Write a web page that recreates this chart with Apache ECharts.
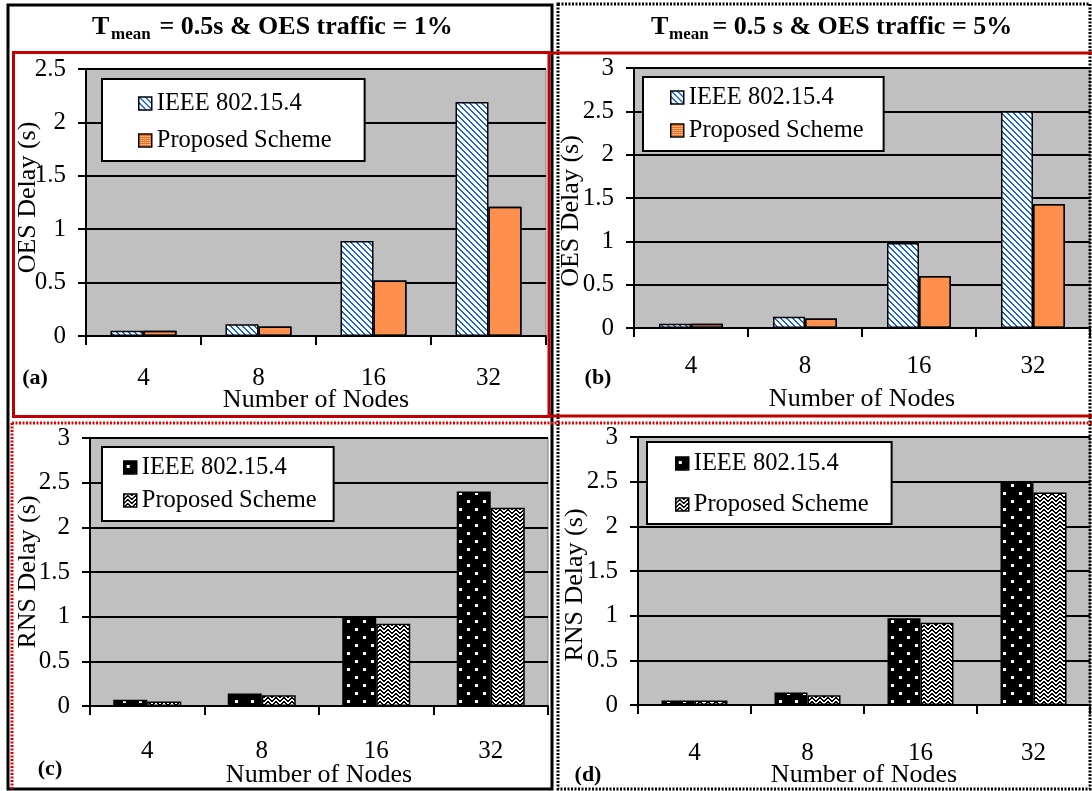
<!DOCTYPE html>
<html><head><meta charset="utf-8">
<script src="https://cdn.jsdelivr.net/npm/echarts@6/dist/echarts.min.js"></script>
<style>html,body{margin:0;padding:0;background:#fff}#c{width:1092px;height:791px}</style>
</head><body><div id="c"></div>
<script>
// ---- data ----
const categories = ['4', '8', '16', '32'];
const seriesNames = ['IEEE 802.15.4', 'Proposed Scheme'];
const oes1Ieee = [0.05, 0.11, 0.89, 2.19];
const oes1Prop = [0.05, 0.09, 0.52, 1.21];
const oes5Ieee = [0.05, 0.13, 0.98, 2.50];
const oes5Prop = [0.05, 0.11, 0.60, 1.43];
const rns1Ieee = [0.07, 0.14, 1.00, 2.40];
const rns1Prop = [0.05, 0.12, 0.92, 2.22];
const rns5Ieee = [0.05, 0.14, 0.97, 2.50];
const rns5Prop = [0.05, 0.11, 0.92, 2.38];
const yMax = [2.5, 3, 3, 3];
const xTitle = 'Number of Nodes';
const yTitles = ['OES Delay (s)', 'OES Delay (s)', 'RNS Delay (s)', 'RNS Delay (s)'];
const panelLetters = ['(a)', '(b)', '(c)', '(d)'];
const titleMain = ['T', 'T'];
const titleSub = ['mean', 'mean'];
const titleRest = [' = 0.5s & OES traffic = 1%', ' = 0.5 s & OES traffic = 5%'];

// ---- patterns ----
function pat(w, h, draw) {
  const c = document.createElement('canvas'); c.width = w; c.height = h;
  const g = c.getContext('2d'); draw(g, w, h);
  return { image: c, repeat: 'repeat' };
}
const makers = {
  blueDiag: () => pat(6, 6, (g, w, h) => {
    g.fillStyle = '#ffffff'; g.fillRect(0, 0, w, h);
    g.fillStyle = '#1565d8';
    for (let i = 0; i < 6; i++) { g.fillRect(i, i, 1, 1); g.fillRect((i + 1) % 6, i, 1, 1); }
  }),
  orangeChk: () => pat(8, 8, (g, w, h) => {
    g.fillStyle = '#ffffff'; g.fillRect(0, 0, w, h);
    g.fillStyle = '#ff6a10';
    for (let y = 0; y < h; y++) for (let x = 0; x < w; x++) {
      if (!(x % 2 === 0 && y % 2 === 0)) g.fillRect(x, y, 1, 1);
    }
  }),
  blackDots: () => pat(16, 16, (g, w, h) => {
    g.fillStyle = '#000000'; g.fillRect(0, 0, w, h);
    g.fillStyle = '#ffffff'; g.fillRect(3, 4, 3, 3); g.fillRect(11, 12, 3, 3);
  }),
  zigzag: () => pat(8, 8, (g, w, h) => {
    g.fillStyle = '#ffffff'; g.fillRect(0, 0, w, h);
    g.fillStyle = '#000000';
    for (let y = 0; y < h; y++) for (let x = 0; x < w; x++) {
      const f = x < 4 ? x : 7 - x;
      if ((y + f) % 4 < 2) g.fillRect(x, y, 1, 1);
    }
  })
};
const styleKeys = [['blueDiag', 'orangeChk'], ['blueDiag', 'orangeChk'], ['blackDots', 'zigzag'], ['blackDots', 'zigzag']];
const dataSets = [[oes1Ieee, oes1Prop], [oes5Ieee, oes5Prop], [rns1Ieee, rns1Prop], [rns5Ieee, rns5Prop]];

// ---- layout ----
const FONT = 'Liberation Serif';
const grids = [
  { left: 86, top: 69, width: 460, height: 267 },
  { left: 634, top: 68, width: 456, height: 260 },
  { left: 90, top: 438, width: 458, height: 268 },
  { left: 638, top: 437, width: 452, height: 268 }
];
const xLabelMargin = [30, 26, 33, 36];
const xNameGap = [51, 58, 56, 57];
const yNameGap = [45, 50, 49, 50];
const yNamePad = [[0, 0, 0, 10], [0, 26, 0, 0], [0, 0, 0, 0], [0, 28, 0, 0]];
const barW = [33, 32, 34, 33];
const legends = [
  { left: 102, top: 79, padding: [12, 33, 8, 36], itemGap: 12 },
  { left: 643, top: 77, padding: [8, 20, 8, 27], itemGap: 8 },
  { left: 102, top: 447, padding: [8, 17, 8, 21], itemGap: 8 },
  { left: 647, top: 442, padding: [9, 23, 7, 28], itemGap: 16 }
];
const letterPos = [[35, 378], [598, 378], [50, 769], [588, 775]];

function barStyle(i, k) {
  const key = styleKeys[i][k];
  if (key === 'orangeChk') {
    return { color: '#ff6a10', borderColor: '#000', borderWidth: 1.5,
      decal: { symbol: 'rect', symbolSize: 0.5, color: '#ffffff', dashArrayX: [2, 0], dashArrayY: [2, 0], rotation: 0 } };
  }
  return { color: makers[key](), borderColor: '#000', borderWidth: 1.5 };
}

const option = {
  animation: false,
  textStyle: { fontFamily: FONT },
  grid: grids.map(g => Object.assign({ show: true, backgroundColor: '#c0c0c0', borderColor: '#808080', borderWidth: 1, containLabel: false, outerBoundsMode: 'none' }, g)),
  xAxis: grids.map((g, i) => ({
    type: 'category', gridIndex: i, data: categories,
    axisLine: { lineStyle: { color: '#000', width: 2 } },
    axisTick: { show: true, length: 9, lineStyle: { color: '#000', width: 2 } },
    axisLabel: { color: '#000', fontSize: 25, fontFamily: FONT, margin: xLabelMargin[i] },
    name: xTitle, nameLocation: 'middle', nameGap: xNameGap[i], nameMoveOverlap: false,
    nameTextStyle: { color: '#000', fontSize: 26, fontFamily: FONT }
  })),
  yAxis: grids.map((g, i) => ({
    type: 'value', gridIndex: i, min: 0, max: yMax[i], interval: 0.5,
    axisLine: { show: true, lineStyle: { color: '#000', width: 2 } },
    axisTick: { show: true, length: 8, lineStyle: { color: '#000', width: 2 } },
    axisLabel: { color: '#000', fontSize: 25, fontFamily: FONT, margin: 20 },
    splitLine: { show: true, lineStyle: { color: '#000', width: 2 } },
    name: yTitles[i], nameLocation: 'middle', nameGap: yNameGap[i], nameMoveOverlap: false,
    nameTextStyle: { color: '#000', fontSize: 26, fontFamily: FONT, padding: yNamePad[i] }
  })),
  legend: legends.map((l, i) => ({
    left: l.left, top: l.top, orient: 'vertical', padding: l.padding, itemGap: l.itemGap,
    backgroundColor: '#fff', borderColor: '#000', borderWidth: 2,
    itemWidth: 13, itemHeight: 13, itemTextGap: 7, selectedMode: false,
    textStyle: { color: '#000', fontSize: 24.5, fontFamily: FONT },
    data: seriesNames.map((n, k) => ({ name: n, icon: 'rect', itemStyle: { color: makers[styleKeys[i][k]](), borderColor: '#000', borderWidth: 1.5, decal: 'none' } }))
  })),
  series: [],
  graphic: []
};
dataSets.forEach((pair, i) => {
  pair.forEach((vals, k) => {
    option.series.push({
      type: 'bar', name: seriesNames[k], xAxisIndex: i, yAxisIndex: i, data: vals,
      barWidth: barW[i], barGap: '0%',
      itemStyle: barStyle(i, k),
      emphasis: { disabled: true }, silent: true
    });
  });
});
// frames
const G = option.graphic;
G.push({ type: 'rect', shape: { x: 8, y: 5, width: 544, height: 784 }, style: { fill: 'none', stroke: '#000', lineWidth: 3 } });
G.push({ type: 'rect', shape: { x: 558, y: 4, width: 532, height: 785 }, style: { fill: 'none', stroke: '#000', lineWidth: 3, lineDash: [2, 1.5] } });
G.push({ type: 'rect', shape: { x: 13.5, y: 52.5, width: 535.5, height: 364 }, style: { fill: 'none', stroke: '#c00000', lineWidth: 3 } });
G.push({ type: 'line', shape: { x1: 549, y1: 53, x2: 1092, y2: 53 }, style: { stroke: '#c00000', lineWidth: 3 } });
G.push({ type: 'line', shape: { x1: 549, y1: 416, x2: 1092, y2: 416 }, style: { stroke: '#c00000', lineWidth: 3 } });
G.push({ type: 'line', shape: { x1: 12, y1: 423, x2: 1092, y2: 423 }, style: { stroke: '#e00000', lineWidth: 3, lineDash: [2, 1.5] } });
G.push({ type: 'line', shape: { x1: 12, y1: 423, x2: 12, y2: 789 }, style: { stroke: '#e00000', lineWidth: 3, lineDash: [2, 1.5] } });
// titles
const titleX = [[92, 111, 153], [651, 669, 706]];
[0, 1].forEach(t => {
  G.push({ type: 'text', x: titleX[t][0], y: 27, style: { text: titleMain[t], font: 'bold 26px "Liberation Serif"', fill: '#000', verticalAlign: 'middle' } });
  G.push({ type: 'text', x: titleX[t][1], y: 35, style: { text: titleSub[t], font: 'bold 17px "Liberation Serif"', fill: '#000', verticalAlign: 'middle' } });
  G.push({ type: 'text', x: titleX[t][2], y: 27, style: { text: titleRest[t], font: 'bold 26px "Liberation Serif"', fill: '#000', verticalAlign: 'middle' } });
});
panelLetters.forEach((s, i) => {
  G.push({ type: 'text', x: letterPos[i][0], y: letterPos[i][1], style: { text: s, font: 'bold 22px "Liberation Serif"', fill: '#000', align: 'center', verticalAlign: 'middle' } });
});
const chart = echarts.init(document.getElementById('c'), null, { renderer: 'canvas' });
chart.setOption(option);
</script></body></html>
